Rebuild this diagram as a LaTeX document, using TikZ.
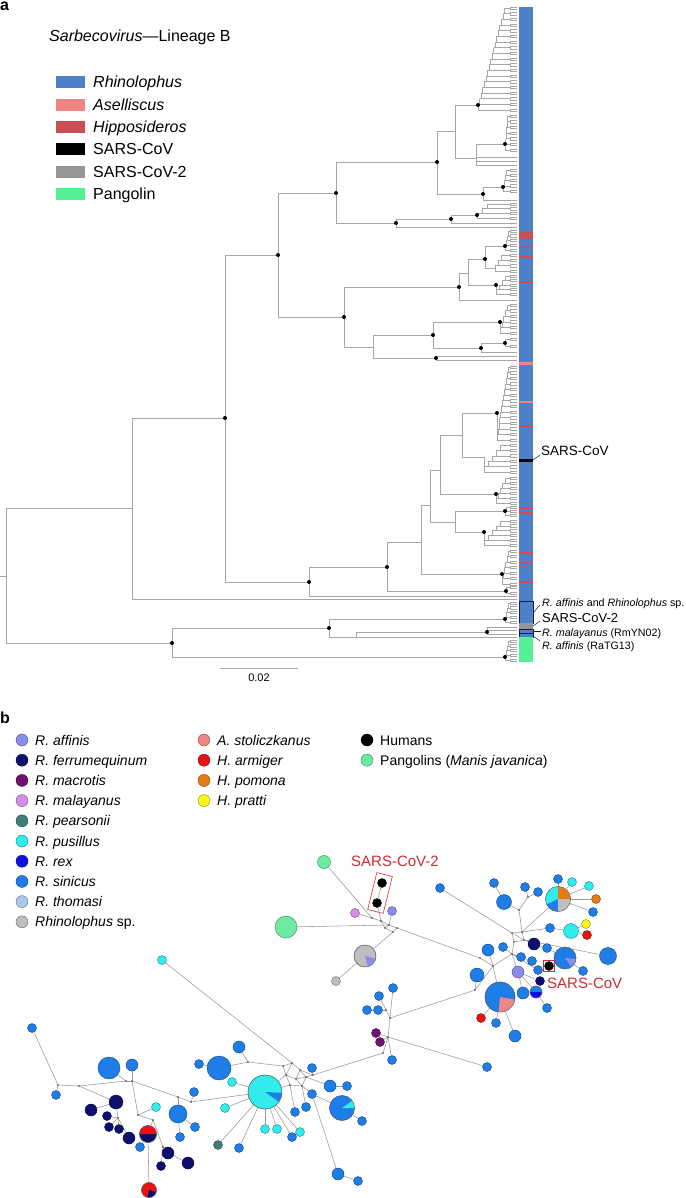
\documentclass[tikz,border=0pt]{standalone}
\usepackage{fontspec}
\setmainfont{Liberation Sans}
\pgfdeclarelayer{bg}
\pgfsetlayers{bg,main}
\definecolor{rhino}{RGB}{78,128,200}
\definecolor{asell}{RGB}{245,130,130}
\definecolor{hippo}{RGB}{200,80,85}
\definecolor{sarstwo}{RGB}{150,150,150}
\definecolor{pangbar}{RGB}{85,240,150}
\definecolor{barline}{RGB}{20,30,80}
\definecolor{sinicus}{RGB}{30,125,230}
\definecolor{pusillus}{RGB}{50,235,235}
\definecolor{ferrum}{RGB}{15,15,110}
\definecolor{affinis}{RGB}{140,140,235}
\definecolor{malayanus}{RGB}{215,140,235}
\definecolor{macrotis}{RGB}{110,20,110}
\definecolor{pearsonii}{RGB}{65,125,120}
\definecolor{rex}{RGB}{15,15,225}
\definecolor{thomasi}{RGB}{170,200,235}
\definecolor{rhsp}{RGB}{190,190,190}
\definecolor{stol}{RGB}{240,135,135}
\definecolor{armiger}{RGB}{230,20,20}
\definecolor{pomona}{RGB}{230,125,20}
\definecolor{pratti}{RGB}{250,245,30}
\definecolor{pango}{RGB}{110,235,160}
\definecolor{labred}{RGB}{205,45,50}
\tikzset{
  br/.style={draw=gray!70, line width=0.45pt},
  ln/.style={draw=gray!80, line width=0.55pt},
  hap/.style={circle, draw=#1!55!black, fill=#1, line width=0.4pt, inner sep=0pt},
}
\newcommand\tH[3]{\draw[br] (#1,#3) -- (#2,#3);}
\newcommand\tV[3]{\draw[br] (#1,#2) -- (#1,#3);}
\newcommand\tComb[5]{%
  \foreach \k in {0,...,#4}{%
    \pgfmathsetmacro\yk{#2-((#2)-(#3))*\k/(#4)}%
    \pgfmathsetmacro\yn{#2-((#2)-(#3))*(\k+1)/(#4)}%
    \pgfmathsetmacro\xk{#1+(#5)*\k}%
    \pgfmathsetmacro\xp{#1+(#5)*max(\k-1,0)}%
    \draw[br] (\xp,\yk) -- (510,\yk) (510,\yk-1.2) -- (510,\yk+1.2) -- (517,\yk+1.2) (510,\yk-1.2) -- (517,\yk-1.2);%
    \ifnum\k<#4\relax\draw[br] (\xk,\yk) -- (\xk,\yn);\fi
  }%
}
\newcommand\tCl[6]{\tV{#1}{#2}{#3}\tComb{#1}{#3}{#4}{#5}{#6}}
\newcommand\hap[5]{\node[hap=#5, minimum size=#4pt] (#1) at (#2,#3) {};}
\newcommand\jnc[3]{\coordinate (#1) at (#2,#3); \fill[black!75] (#1) circle[radius=0.8pt];}
\newcommand\wdg[6]{\fill[#6] (#1,#2) -- ++(#4:#3pt) arc[start angle=#4, end angle=#5, radius=#3pt] -- cycle;}
\newcommand\rim[3]{\draw[line width=0.4pt, black!55] (#1,#2) circle[radius=#3pt];}
\newcommand\lega[4]{\fill[#3] (56,#2-6) rectangle (85,#2+6); \node[anchor=base west, inner sep=0, font=\fontsize{16}{19}\selectfont] (#1) at (93,#2+6) {#4};}
\newcommand\legb[5]{\node[hap=#4, minimum size=12pt] (#1) at (#2,#3) {}; \node[anchor=base west, inner sep=0, font=\fontsize{14}{16}\selectfont] (#1t) at (#2+13,#3+5) {#5};}
\begin{document}
\begin{tikzpicture}[x=1pt,y=-1pt]
\begin{pgfonlayer}{bg}
\fill[white] (0,0) rectangle (685,1198);
\end{pgfonlayer}
\useasboundingbox (0,0) rectangle (685,1198);
% ================= panel a =================
\node[anchor=base west, inner sep=0, font=\fontsize{16}{19}\selectfont\bfseries] (pa) at (0,10.5) {a};
\node[anchor=base west, inner sep=0, font=\fontsize{16}{19}\selectfont] (title) at (49,42) {\textit{Sarbecovirus}—Lineage B};
\lega{la1}{82}{rhino}{\textit{Rhinolophus}}
\lega{la2}{105}{asell}{\textit{Aselliscus}}
\lega{la3}{127}{hippo}{\textit{Hipposideros}}
\lega{la4}{149}{black}{SARS-CoV}
\lega{la5}{172}{sarstwo}{SARS-CoV-2}
\lega{la6}{194}{pangbar}{Pangolin}
% tree
\tH{0}{6}{576}\tV{6}{508}{643}
\tH{6}{132}{508}\tV{132}{418}{599}\tH{132}{517}{599}
\tH{132}{225}{418}\tV{225}{255}{582}
\tH{225}{278}{255}\tV{278}{193}{317}
% clade A
\tH{278}{336}{193}\tV{336}{162}{223}
\tH{336}{437}{162}\tV{437}{131}{194}
\tH{437}{455}{131}\tV{455}{105}{158}
\tH{455}{478}{105}\tCl{478}{105}{110}{8}{18}{1.55}
\tH{455}{476}{158}\tV{476}{144}{165}\tH{476}{517}{157}\tH{476}{517}{161}\tH{476}{517}{165}
\tH{476}{505}{144}\tCl{505}{144}{150}{116}{6}{0.5}
\tH{437}{483}{194}\tV{483}{187}{200}\tH{483}{517}{200}
\tH{483}{503}{187}\tCl{503}{187}{191}{170}{4}{1}
\tH{336}{396}{223}\tV{396}{219}{227}\tH{396}{517}{227}
\tH{396}{451}{219}\tV{451}{215}{223}\tH{451}{517}{223}
\tH{451}{477}{215}\tCl{477}{215}{218}{204}{3}{5}
% clade B
\tH{278}{344}{317}\tV{344}{287}{347}
\tH{344}{459}{287}\tV{459}{273}{300}\tH{459}{517}{300}
\tH{459}{468}{273}\tV{468}{259}{285}
\tH{468}{485}{259}\tV{485}{246}{268}
\tH{485}{505}{246}\tCl{505}{246}{250}{231}{4}{1}
\tH{485}{495}{268}\tCl{495}{268}{271}{255}{3}{3}
\tH{468}{496}{285}\tCl{496}{285}{294}{276}{4}{3}
\tH{344}{373}{347}\tV{373}{335}{358}
\tH{373}{433}{335}\tV{433}{322}{348}
\tH{433}{500}{322}\tCl{500}{322}{333}{305}{5}{1.8}
\tH{433}{481}{348}\tV{481}{343}{352}\tH{481}{517}{352}
\tH{481}{505}{343}\tCl{505}{343}{346}{339}{1}{1}
\tH{373}{436}{358}\tV{436}{356}{360}\tH{436}{517}{356}\tH{436}{517}{360}
% clade C
\tH{225}{309}{582}\tV{309}{567}{596}\tH{309}{517}{596}
\tH{309}{387}{567}\tV{387}{542}{591}
\tH{387}{506}{591}\tCl{506}{591}{593}{587}{1}{1}
\tH{387}{421}{542}\tV{421}{505}{574}
\tH{421}{502}{574}\tCl{502}{574}{584}{551}{6}{1.2}
\tH{421}{430}{505}\tV{430}{470}{522}
\tH{430}{455}{522}\tV{455}{511}{532}
\tH{455}{505}{511}\tCl{505}{511}{515}{507}{2}{1}
\tH{455}{484}{532}\tCl{484}{532}{545}{521}{5}{4}
\tH{430}{440}{470}\tV{440}{435}{494}
\tH{440}{496}{494}\tCl{496}{494}{503}{478}{5}{2.2}
\tH{440}{462}{435}\tV{462}{413}{457}
\tH{462}{497}{413}\tCl{497}{413}{440}{367}{13}{0.9}
\tH{462}{484}{457}\tCl{484}{457}{472}{445}{5}{4}
% clade D
\tH{6}{172}{643}\tV{172}{628}{657}
\tH{172}{505}{657}\tCl{505}{657}{660}{641}{4}{1}
\tH{172}{329}{628}\tV{329}{619}{637}
\tH{329}{505}{619}\tCl{505}{619}{622}{603}{4}{1}
\tH{329}{356}{637}\tV{356}{632}{637}\tH{356}{517}{637}
\tH{356}{487}{632}\tV{487}{627}{634}\tH{487}{517}{627}\tH{487}{517}{630}\tH{487}{517}{634}
% support dots
\foreach \x/\y in {336/193,437/162,478/105,505/144,483/194,503/187,396/223,451/219,477/215,278/255,459/287,485/259,505/246,496/285,344/317,500/322,433/335,481/348,505/343,436/358,225/418,497/413,496/494,505/511,484/532,502/574,387/567,309/582,506/591,172/643,329/628,505/619,487/632,505/657}
  \fill (\x,\y) circle[radius=2pt];
% host bar
\fill[rhino] (519,7) rectangle (533,601);
\foreach \a/\b in {232/239,246/248,256/258,281/283,425/427,507/509,512/514,552/554,562/564,581/583}
  \fill[hippo] (519,\a) rectangle (533,\b);
\foreach \a/\b in {362/365,401/403}
  \fill[asell] (519,\a) rectangle (533,\b);
\fill[black] (519,459) rectangle (533,462);
\fill[rhino] (519,601) rectangle (533,623);
\draw[barline, line width=0.5pt] (519,601) rectangle (533,623);
\fill[sarstwo] (519,623) rectangle (533,629);
\fill[rhino] (519,629) rectangle (533,637);
\draw[barline, line width=0.5pt] (519,629) rectangle (533,633) (519,633) rectangle (533,637);
\fill[pangbar] (519,637) rectangle (533,662);
% labels
\draw[barline, line width=0.5pt] (533,460) -- (540,455);
\node[anchor=base west, inner sep=0, font=\fontsize{13.5}{16}\selectfont] (lsars) at (541,455) {SARS-CoV};
\draw[barline, line width=0.5pt] (533,613) -- (540,605);
\draw[barline, line width=0.5pt] (533,626) -- (540,621);
\draw[barline, line width=0.5pt] (533,631) -- (541,631);
\draw[barline, line width=0.5pt] (533,636) -- (540,641);
\node[anchor=base west, inner sep=0, font=\fontsize{10.7}{13}\selectfont] (lraf) at (542,606) {\textit{R. affinis} and \textit{Rhinolophus} sp.};
\node[anchor=base west, inner sep=0, font=\fontsize{13}{15}\selectfont] (lsars2) at (542,622) {SARS-CoV-2};
\node[anchor=base west, inner sep=0, font=\fontsize{10.7}{13}\selectfont] (lmal) at (542,636) {\textit{R. malayanus} (RmYN02)};
\node[anchor=base west, inner sep=0, font=\fontsize{10.7}{13}\selectfont] (lrat) at (542,649) {\textit{R. affinis} (RaTG13)};
% scale bar
\draw[br] (220,668) -- (298,668);
\node[anchor=base, inner sep=0, font=\fontsize{11}{13}\selectfont] (scl) at (259,681) {0.02};
% ================= panel b =================
\node[anchor=base west, inner sep=0, font=\fontsize{16}{19}\selectfont\bfseries] (pb) at (0,723) {b};
\legb{lb1}{22}{740}{affinis}{\textit{R. affinis}}
\legb{lb2}{22}{760.2}{ferrum}{\textit{R. ferrumequinum}}
\legb{lb3}{22}{780.4}{macrotis}{\textit{R. macrotis}}
\legb{lb4}{22}{800.6}{malayanus}{\textit{R. malayanus}}
\legb{lb5}{22}{820.8}{pearsonii}{\textit{R. pearsonii}}
\legb{lb6}{22}{841}{pusillus}{\textit{R. pusillus}}
\legb{lb7}{22}{861.2}{rex}{\textit{R. rex}}
\legb{lb8}{22}{881.4}{sinicus}{\textit{R. sinicus}}
\legb{lb9}{22}{901.6}{thomasi}{\textit{R. thomasi}}
\legb{lb10}{22}{921.8}{rhsp}{\textit{Rhinolophus} sp.}
\legb{lb11}{204}{740}{stol}{\textit{A. stoliczkanus}}
\legb{lb12}{204}{760.2}{armiger}{\textit{H. armiger}}
\legb{lb13}{204}{780.4}{pomona}{\textit{H. pomona}}
\legb{lb14}{204}{800.6}{pratti}{\textit{H. pratti}}
\legb{lb15}{367}{740}{black}{Humans}
\legb{lb16}{367}{760.2}{pango}{Pangolins (\textit{Manis javanica})}
% junctions
\jnc{a1}{372}{918}\jnc{a2}{381}{921}\jnc{a3}{389}{925}\jnc{a4}{397}{928}\jnc{a5}{385}{928}\jnc{a6}{393}{932}
\jnc{b2}{512}{933}\jnc{b3}{522}{932}\jnc{b4}{514}{942}\jnc{b5}{524}{940}
\jnc{j2}{519}{910}\jnc{j3}{528}{897}\jnc{j4}{480}{958}\jnc{j9}{493}{966}\jnc{j7}{512}{954}\jnc{j5}{475}{990}
\jnc{jm}{390}{1018}\jnc{jm1}{386}{1010}\jnc{jm2}{388}{1037}\jnc{jm3}{383}{1053}
\jnc{q1}{283}{1066}\jnc{q2}{292}{1063}\jnc{q3}{300}{1070}\jnc{q4}{306}{1077}\jnc{q5}{296}{1079}\jnc{q6}{286}{1075}\jnc{q7}{313}{1075}\jnc{q8}{302}{1086}\jnc{q9}{290}{1085}
\jnc{e1}{248}{1062}\jnc{k2}{191}{1102}\jnc{k3}{178}{1097}\jnc{k4}{132}{1081}\jnc{k5}{126}{1081}\jnc{k6}{79}{1086}\jnc{k7}{58}{1085}\jnc{k8}{118}{1118}\jnc{k9}{138}{1115}\jnc{k10}{153}{1120}\jnc{k11}{163}{1147}
% haplotypes: upper left
\hap{G1}{324}{862}{13}{pango}
\hap{G2}{286}{927}{22}{pango}
\hap{H1}{382}{883}{9}{black}
\hap{H2}{377}{903}{9}{black}
\hap{M1}{355}{913}{9}{malayanus}
\hap{AF1}{392}{911}{9}{affinis}
\hap{SP1}{365}{956}{22}{rhsp}
\hap{SP2}{336}{981}{9}{rhsp}
% right cluster
\hap{R1}{440}{888}{9}{sinicus}
\hap{R2}{494}{883}{9}{sinicus}
\hap{R3}{504}{902}{15}{sinicus}
\hap{R4}{525}{887}{9}{sinicus}
\hap{R5}{538}{892}{9}{sinicus}
\hap{PA}{558}{899}{25}{sinicus}
\hap{R6}{558}{879}{9}{sinicus}
\hap{R7}{572}{882}{9}{pusillus}
\hap{R8}{589}{886}{9}{pusillus}
\hap{R9}{596}{899}{9}{pomona}
\hap{R10}{593}{912}{9}{sinicus}
\hap{R11}{550}{928}{9}{sinicus}
\hap{R12}{571}{931}{15}{pusillus}
\hap{R13}{586}{924}{9}{pratti}
\hap{R14}{587}{935}{9}{armiger}
\hap{R15}{608}{956}{17}{sinicus}
\hap{R16}{534}{944}{12}{ferrum}
\hap{R17}{547}{948}{9}{sinicus}
\hap{PB}{565}{958}{22}{sinicus}
\hap{R18}{583}{971}{9}{sinicus}
\hap{HU}{549}{966}{9}{black}
\hap{R19}{488}{950}{12}{sinicus}
\hap{R20}{503}{947}{9}{sinicus}
\hap{R21}{521}{957}{9}{sinicus}
\hap{R22}{532}{961}{9}{sinicus}
\hap{R23}{538}{970}{9}{sinicus}
\hap{R24}{518}{972}{12}{affinis}
\hap{R25}{540}{981}{9}{ferrum}
\hap{R26}{523}{993}{12}{sinicus}
\hap{R27}{536}{992}{12}{sinicus}
\hap{R28}{547}{1008}{9}{sinicus}
\hap{R29}{477}{975}{14}{sinicus}
\hap{PC}{500}{997}{30}{sinicus}
\hap{R30}{481}{1018}{9}{armiger}
\hap{R31}{496}{1023}{9}{sinicus}
\hap{R32}{515}{1036}{12}{sinicus}
% middle
\hap{M2}{393}{988}{9}{sinicus}
\hap{M3}{379}{996}{9}{sinicus}
\hap{M4}{367}{1010}{9}{sinicus}
\hap{M5}{378}{1010}{9}{sinicus}
\hap{MAC1}{376}{1033}{9}{macrotis}
\hap{MAC2}{380}{1042}{9}{macrotis}
\hap{M6}{392}{1060}{9}{sinicus}
\hap{M7}{487}{1067}{9}{sinicus}
% left cluster
\hap{C1}{265}{1092}{34}{pusillus}
\hap{L1}{312}{1068}{9}{sinicus}
\hap{L2}{330}{1086}{12}{sinicus}
\hap{L3}{347}{1086}{9}{sinicus}
\hap{L4}{312}{1094}{9}{sinicus}
\hap{P4}{342}{1108}{25}{sinicus}
\hap{L5}{362}{1121}{9}{sinicus}
\hap{L6}{306}{1107}{9}{sinicus}
\hap{L7}{295}{1112}{9}{sinicus}
\hap{L8}{338}{1174}{12}{sinicus}
\hap{L9}{358}{1181}{9}{sinicus}
\hap{CS1}{265}{1129}{9}{pusillus}
\hap{CS2}{277}{1129}{9}{pusillus}
\hap{CS3}{300}{1132}{9}{pusillus}
\hap{L10}{292}{1137}{9}{sinicus}
\hap{TE}{218}{1145}{9}{pearsonii}
\hap{L11}{239}{1148}{9}{sinicus}
\hap{CS4}{225}{1108}{9}{pusillus}
\hap{CS5}{232}{1082}{9}{pusillus}
\hap{CS6}{162}{960}{9}{pusillus}
\hap{B1}{219}{1068}{24}{sinicus}
\hap{L12}{199}{1064}{9}{sinicus}
\hap{L13}{239}{1047}{12}{sinicus}
\hap{B2}{178}{1114}{18}{sinicus}
\hap{L14}{194}{1092}{9}{sinicus}
\hap{L15}{195}{1127}{9}{sinicus}
\hap{L16}{180}{1137}{9}{sinicus}
\hap{B3}{109}{1068}{22}{sinicus}
\hap{L17}{132}{1065}{12}{sinicus}
\hap{L18}{32}{1028}{9}{sinicus}
\hap{L19}{56}{1095}{9}{sinicus}
\hap{N1}{116}{1102}{14}{ferrum}
\hap{N2}{91}{1110}{12}{ferrum}
\hap{N3}{107}{1116}{9}{ferrum}
\hap{N4}{109}{1127}{9}{ferrum}
\hap{N5}{119}{1129}{9}{ferrum}
\hap{N6}{129}{1138}{12}{ferrum}
\hap{CS7}{156}{1107}{9}{pusillus}
\hap{RP1}{148}{1134}{17}{ferrum}
\hap{L20}{140}{1147}{9}{sinicus}
\hap{N7}{168}{1153}{12}{ferrum}
\hap{N8}{188}{1163}{12}{ferrum}
\hap{N9}{161}{1166}{9}{ferrum}
\hap{RP2}{149}{1190}{15}{armiger}
% pie wedges
\wdg{558}{899}{12.5}{90}{205}{pusillus}\wdg{558}{899}{12.5}{0}{90}{pomona}\wdg{558}{899}{12.5}{-90}{0}{rhsp}\rim{558}{899}{12.5}
\wdg{565}{958}{11}{-55}{-5}{affinis}\rim{565}{958}{11}
\wdg{500}{997}{15}{-95}{-10}{stol}\rim{500}{997}{15}
\wdg{365}{956}{11}{-75}{-15}{affinis}\rim{365}{956}{11}
\wdg{265}{1092}{17}{-35}{-3}{sinicus}\rim{265}{1092}{17}
\wdg{342}{1108}{12.5}{0}{35}{pusillus}\rim{342}{1108}{12.5}
\wdg{148}{1134}{8.5}{0}{180}{armiger}\rim{148}{1134}{8.5}
\wdg{149}{1190}{7.5}{-100}{-15}{ferrum}\rim{149}{1190}{7.5}
\wdg{536}{992}{6}{180}{360}{rex}\rim{536}{992}{6}
% edges
\begin{pgfonlayer}{bg}
\foreach \a/\b in {G1/a1,H2/H1,H2/a2,M1/a1,AF1/a3,G2/a3,a1/a2,a2/a3,a3/a4,a2/a5,a5/a6,a6/a4,a5/a3,SP1/a6,SP2/SP1,a4/j4,
  R1/b2,b2/b3,b3/b5,b5/b4,b4/b2,b2/b5,j2/b3,j2/R3,j2/j3,j3/R4,j3/R5,R3/R2,b3/PA,PA/R6,PA/R7,PA/R8,PA/R9,PA/R10,b3/R11,R11/R12,R12/R13,R12/R14,b5/R15,b5/R16,R16/R17,R17/PB,PB/HU,PB/R18,
  b4/j7,j7/R20,j7/R21,j7/R22,j7/R23,j7/R24,R24/R25,R24/R26,R24/R27,R27/R28,j7/j9,j9/R19,j9/j4,j9/PC,j9/j5,j5/R29,j5/jm,PC/R30,PC/R31,PC/R32,
  jm/M2,jm/jm1,jm1/M3,jm1/M4,jm1/M5,jm/jm2,jm2/MAC1,jm2/MAC2,jm2/M6,jm2/M7,jm2/jm3,jm3/q7,
  q1/q2,q2/q3,q3/q4,q4/q7,q1/q6,q6/q5,q5/q4,q2/q6,q3/q5,q5/q8,q8/q4,q6/q9,q9/q8,q3/q7,
  CS6/q2,C1/q6,C1/q9,q7/L1,q4/L2,L2/L3,q8/L4,L4/L8,L8/L9,L4/P4,P4/L5,q8/L6,q9/L7,
  C1/CS1,C1/CS2,C1/L10,C1/CS3,C1/TE,C1/L11,C1/CS4,C1/CS5,
  q1/e1,e1/B1,B1/L12,e1/L13,
  C1/k2,k2/k3,k3/B2,k2/L14,B2/L15,B2/L16,k3/k4,k4/L17,k4/k5,k5/B3,k5/k6,k6/k7,k7/L18,k7/L19,k6/N1,N1/N2,N1/k8,k8/N3,k8/N4,k8/N5,k8/N6,
  k4/k9,k9/CS7,k9/k10,k10/RP1,RP1/RP2,RP1/L20,k10/k11,k11/N7,N7/N8,k11/N9}
  \draw[ln] (\a) -- (\b);
\end{pgfonlayer}
% red highlights
\node[draw=labred, line width=0.6pt, rotate=-14, minimum width=16pt, minimum height=38pt, inner sep=0pt] (box2) at (380,893) {};
\node[draw=labred, line width=0.6pt, minimum size=11pt, inner sep=0pt] (box1) at (549,966) {};
\node[anchor=base west, inner sep=0, text=labred, font=\fontsize{15}{18}\selectfont] (t2) at (351,866) {SARS-CoV-2};
\node[anchor=base west, inner sep=0, text=labred, font=\fontsize{15}{18}\selectfont] (t1) at (547,988) {SARS-CoV};
\end{tikzpicture}
\end{document}
